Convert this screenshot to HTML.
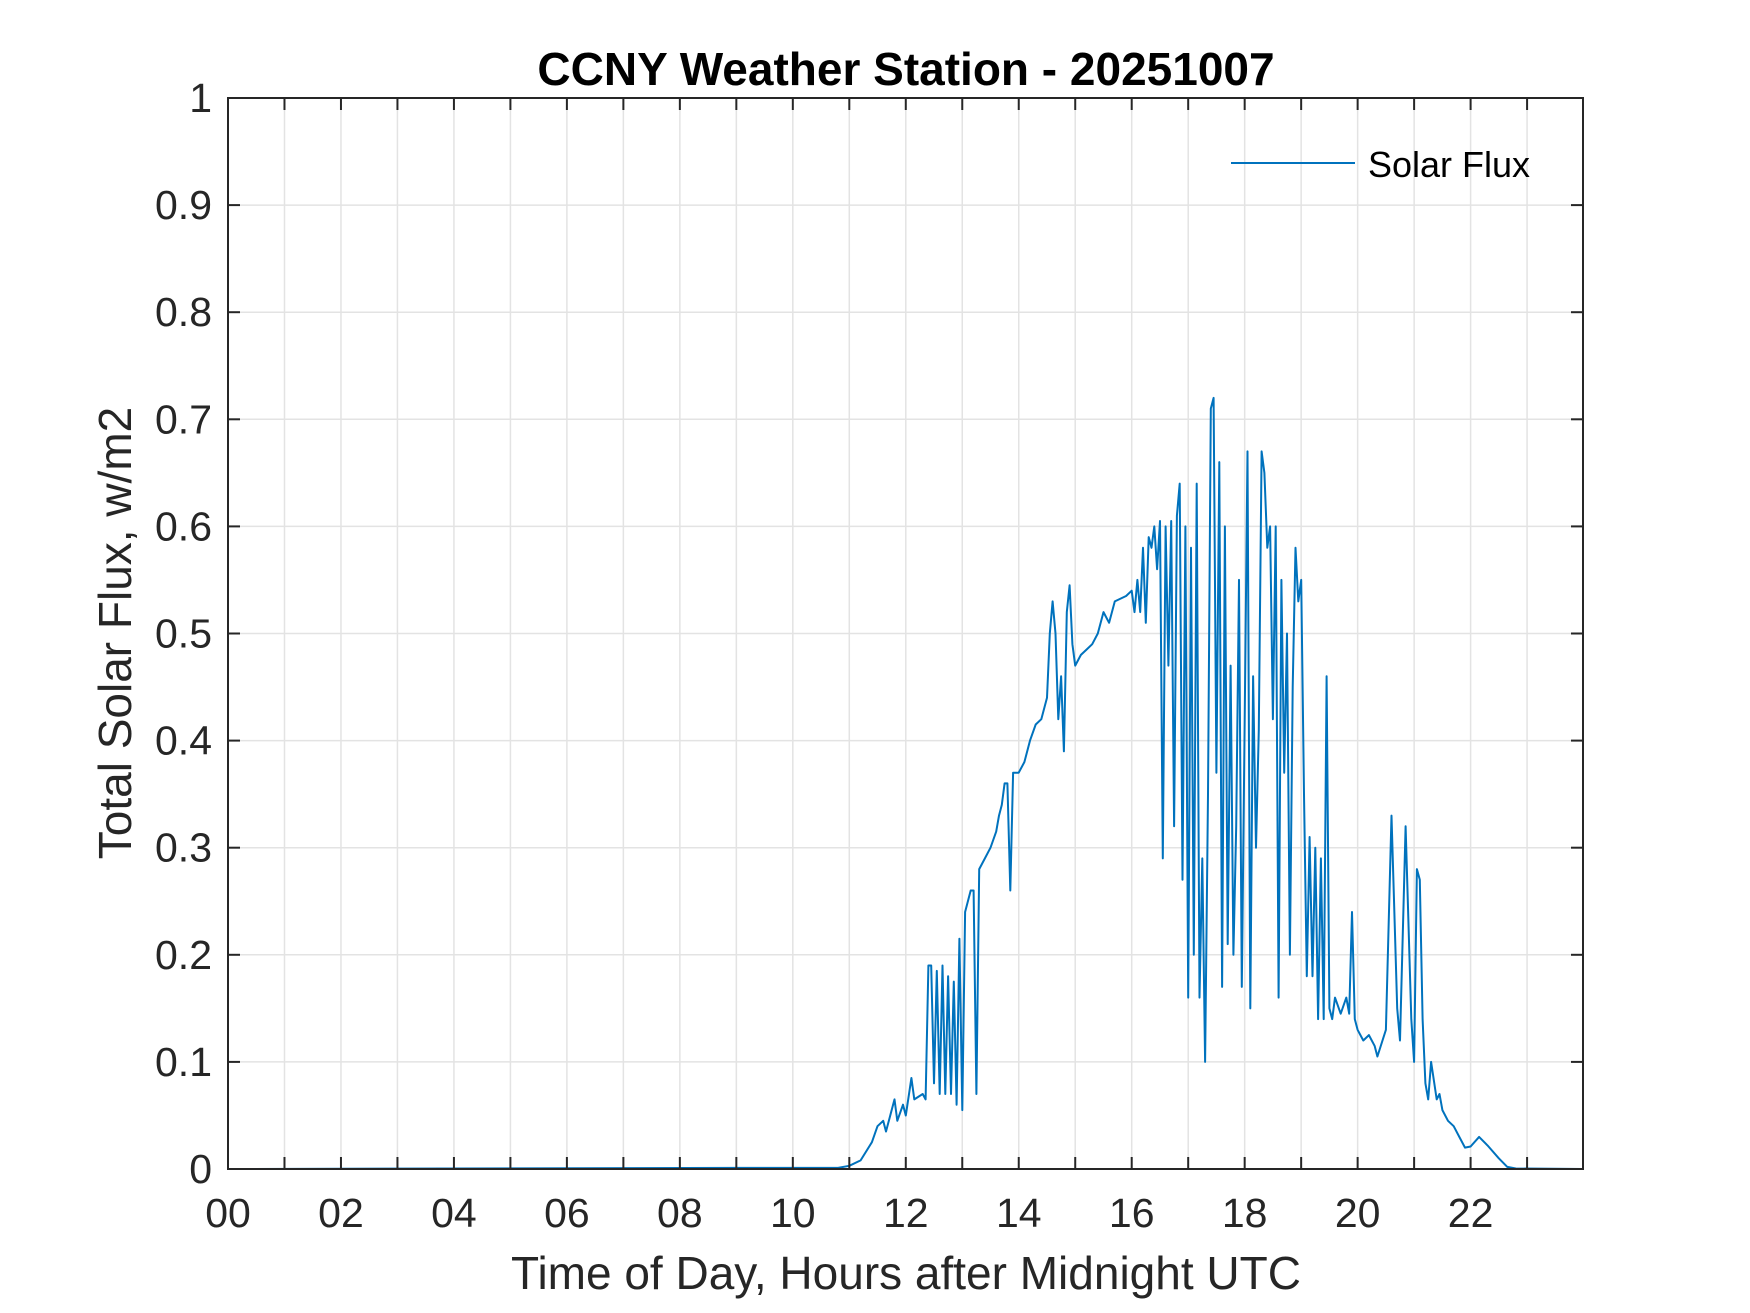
<!DOCTYPE html>
<html><head><meta charset="utf-8"><style>
body{margin:0;background:#fff}
svg{display:block;font-family:"Liberation Sans",sans-serif}
</style></head><body>
<svg id="chart" width="1750" height="1313" viewBox="0 0 1750 1313" xmlns="http://www.w3.org/2000/svg">
<rect width="1750" height="1313" fill="#fff"/>
<g id="grid"></g>
<g id="plot"></g>
<g id="axes"></g>
<text x="906" y="85" text-anchor="middle" font-size="46" font-weight="bold" fill="#000">CCNY Weather Station - 20251007</text>
<text x="906" y="1289" text-anchor="middle" font-size="46" fill="#262626">Time of Day, Hours after Midnight UTC</text>
<text transform="translate(131,633) rotate(-90)" text-anchor="middle" font-size="46" fill="#262626">Total Solar Flux, w/m2</text>
<g>
<line x1="1231" y1="163" x2="1355" y2="163" stroke="#0072BD" stroke-width="2"/>
<text x="1368" y="177" font-size="36" fill="#000">Solar Flux</text>
</g>
</svg>
<script>
const xTicks=[0,2,4,6,8,10,12,14,16,18,20,22];
const xTickLabels=["00","02","04","06","08","10","12","14","16","18","20","22"];
const yTicks=[0,0.1,0.2,0.3,0.4,0.5,0.6,0.7,0.8,0.9,1];
const yTickLabels=["0","0.1","0.2","0.3","0.4","0.5","0.6","0.7","0.8","0.9","1"];
const hours=[0,9,10.8,11.0,11.2,11.4,11.5,11.6,11.65,11.8,11.85,11.95,12.0,12.1,12.15,12.3,12.35,12.4,12.45,12.5,12.55,12.6,12.65,12.7,12.75,12.8,12.85,12.9,12.95,13.0,13.05,13.1,13.15,13.2,13.25,13.3,13.4,13.5,13.6,13.65,13.7,13.75,13.8,13.85,13.9,14.0,14.1,14.2,14.3,14.4,14.5,14.55,14.6,14.65,14.7,14.75,14.8,14.85,14.9,14.95,15.0,15.1,15.2,15.3,15.4,15.5,15.6,15.7,15.9,16.0,16.05,16.1,16.15,16.2,16.25,16.3,16.35,16.4,16.45,16.5,16.55,16.6,16.65,16.7,16.75,16.8,16.85,16.9,16.95,17.0,17.05,17.1,17.15,17.2,17.25,17.3,17.35,17.4,17.45,17.5,17.55,17.6,17.65,17.7,17.75,17.8,17.85,17.9,17.95,18.0,18.05,18.1,18.15,18.2,18.25,18.3,18.35,18.4,18.45,18.5,18.55,18.6,18.65,18.7,18.75,18.8,18.85,18.9,18.95,19.0,19.05,19.1,19.15,19.2,19.25,19.3,19.35,19.4,19.45,19.5,19.55,19.6,19.7,19.8,19.85,19.9,19.95,20.0,20.1,20.2,20.3,20.35,20.5,20.6,20.7,20.75,20.85,20.95,21.0,21.05,21.1,21.15,21.2,21.25,21.3,21.4,21.45,21.5,21.6,21.7,21.8,21.9,22.0,22.15,22.3,22.5,22.65,22.8,23.98];
const flux=[0,0.001,0.001,0.003,0.008,0.025,0.04,0.045,0.035,0.065,0.045,0.06,0.05,0.085,0.065,0.07,0.065,0.19,0.19,0.08,0.185,0.07,0.19,0.07,0.18,0.07,0.175,0.06,0.215,0.055,0.24,0.25,0.26,0.26,0.07,0.28,0.29,0.3,0.315,0.33,0.34,0.36,0.36,0.26,0.37,0.37,0.38,0.4,0.415,0.42,0.44,0.5,0.53,0.5,0.42,0.46,0.39,0.52,0.545,0.49,0.47,0.48,0.485,0.49,0.5,0.52,0.51,0.53,0.535,0.54,0.52,0.55,0.52,0.58,0.51,0.59,0.58,0.6,0.56,0.605,0.29,0.6,0.47,0.605,0.32,0.61,0.64,0.27,0.6,0.16,0.58,0.2,0.64,0.16,0.29,0.1,0.35,0.71,0.72,0.37,0.66,0.17,0.6,0.21,0.47,0.2,0.32,0.55,0.17,0.42,0.67,0.15,0.46,0.3,0.41,0.67,0.65,0.58,0.6,0.42,0.6,0.16,0.55,0.37,0.5,0.2,0.45,0.58,0.53,0.55,0.35,0.18,0.31,0.18,0.3,0.14,0.29,0.14,0.46,0.15,0.14,0.16,0.145,0.16,0.145,0.24,0.14,0.13,0.12,0.125,0.115,0.105,0.13,0.33,0.15,0.12,0.32,0.14,0.1,0.28,0.27,0.14,0.08,0.065,0.1,0.065,0.07,0.055,0.045,0.04,0.03,0.02,0.021,0.03,0.022,0.01,0.002,0.0005,0];
const NS="http://www.w3.org/2000/svg";
const L=228,R=1583,T=98,B=1169,XMAX=23.99;
function xs(h){return L+(R-L)*h/XMAX;}
function ys(v){return B-(B-T)*v;}
function mk(tag,attrs,parent){const e=document.createElementNS(NS,tag);for(const k in attrs)e.setAttribute(k,attrs[k]);parent.appendChild(e);return e;}
const grid=document.getElementById('grid'),axes=document.getElementById('axes'),plot=document.getElementById('plot');
for(let h=1;h<24;h++){
  const g=mk('line',{x1:xs(h),x2:xs(h),y1:T,y2:B,stroke:'#e3e3e3','stroke-width':1.5},grid);
  
  
  for(const [a,b] of [[B,B-12],[T,T+12]]){
    const t=mk('line',{x1:xs(h),x2:xs(h),y1:a,y2:b,stroke:'#262626','stroke-width':2},axes);
    
    
  }
}
yTicks.forEach((v,i)=>{
  if(v>0&&v<1){
    const g=mk('line',{x1:L,x2:R,y1:ys(v),y2:ys(v),stroke:'#e3e3e3','stroke-width':1.5},grid);
    
    
    for(const [a,b] of [[L,L+12],[R,R-12]]){
      const t=mk('line',{x1:a,x2:b,y1:ys(v),y2:ys(v),stroke:'#262626','stroke-width':2},axes);
      
      
    }
  }
  const tx=mk('text',{x:L-16,y:ys(v)+14,'text-anchor':'end','font-size':41,fill:'#262626'},axes);
  tx.textContent=yTickLabels[i];
  
  
});
xTicks.forEach((h,i)=>{
  const tx=mk('text',{x:xs(h),y:1227,'text-anchor':'middle','font-size':41,fill:'#262626'},axes);
  tx.textContent=xTickLabels[i];
  
  
});
const box=mk('rect',{x:L,y:T,width:R-L,height:B-T,fill:'none',stroke:'#262626','stroke-width':2},axes);


const pts=hours.map((h,i)=>xs(h).toFixed(1)+','+ys(flux[i]).toFixed(1)).join(' ');
const line=mk('polyline',{points:pts,fill:'none',stroke:'#0072BD','stroke-width':2,'stroke-linejoin':'round'},plot);


</script>
</body></html>
